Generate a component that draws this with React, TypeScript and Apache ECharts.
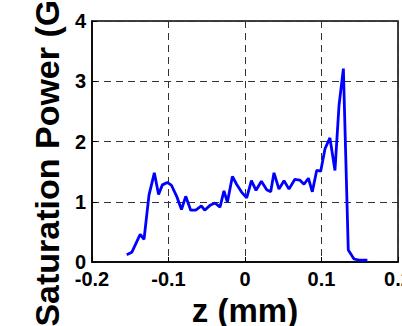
import React, { useEffect, useRef } from "react";
import * as echarts from "echarts";

const zValues = [
  -0.1546, -0.148, -0.1425, -0.137, -0.132, -0.1255, -0.1185, -0.113, -0.108, -0.1015,
  -0.096, -0.089, -0.083, -0.0775, -0.071, -0.0644, -0.057, -0.0527, -0.0457, -0.0392,
  -0.0327, -0.0275, -0.023, -0.0165, -0.011, -0.0045, 0.0022, 0.0084, 0.0144, 0.0214,
  0.0284, 0.0336, 0.0379, 0.0444, 0.051, 0.0575, 0.065, 0.0715, 0.0771, 0.0829,
  0.088, 0.0937, 0.099, 0.1046, 0.111, 0.1176, 0.1229, 0.1286, 0.135, 0.1425,
  0.149, 0.155, 0.16,
];
const powerValues = [
  0.12, 0.16, 0.31, 0.46, 0.375, 1.11, 1.48, 1.12, 1.28, 1.32,
  1.27, 1.08, 0.87, 1.09, 0.86, 0.86, 0.93, 0.86, 0.94, 0.98,
  0.91, 1.18, 0.99, 1.42, 1.29, 1.16, 1.065, 1.35, 1.19, 1.34,
  1.2, 1.165, 1.48, 1.21, 1.35, 1.21, 1.37, 1.36, 1.29, 1.39,
  1.165, 1.52, 1.51, 1.88, 2.06, 1.52, 2.6, 3.21, 0.2, 0.05,
  0.03, 0.03, 0.03,
];
const xTicks = { min: -0.2, max: 0.2, interval: 0.1 };
const yTicks = { min: 0, max: 4, interval: 1 };
const xName = "z (mm)";
const yName = "Saturation Power (GW)";

export default function App() {
  const ref = useRef<HTMLDivElement>(null);
  useEffect(() => {
    if (!ref.current) return;
    const chart = echarts.init(ref.current, null, { renderer: "svg" });
    const font = "Arial, 'Liberation Sans', Helvetica, sans-serif";
    const splitLine = {
      show: true,
      lineStyle: { color: "#333", width: 1, type: [7, 5] as any },
    };
    chart.setOption({
      animation: false,
      backgroundColor: "#fff",
      grid: {
        left: 92,
        right: 4,
        top: 21,
        bottom: 64,
        containLabel: false,
        outerBoundsMode: "none",
        show: true,
        borderColor: "#000",
        borderWidth: 1.5,
        backgroundColor: "transparent",
      },
      xAxis: {
        type: "value",
        min: xTicks.min,
        max: xTicks.max,
        interval: xTicks.interval,
        name: xName,
        nameLocation: "middle",
        nameGap: 30,
        nameTextStyle: { fontFamily: font, fontWeight: "bold", fontSize: 33, color: "#000" },
        axisLine: { show: true, onZero: false, lineStyle: { color: "#000", width: 1.5 } },
        axisTick: { show: true, inside: true, length: 5, lineStyle: { color: "#000" } },
        axisLabel: {
          fontFamily: font,
          fontWeight: "bold",
          fontSize: 20,
          color: "#000",
          margin: 7,
          hideOverlap: false,
          formatter: (v: number) => String(Math.round(v * 10) / 10),
        },
        splitLine,
      },
      yAxis: {
        type: "value",
        min: yTicks.min,
        max: yTicks.max,
        interval: yTicks.interval,
        name: yName,
        nameLocation: "middle",
        nameRotate: 90,
        nameGap: 28,
        nameTextStyle: { fontFamily: font, fontWeight: "bold", fontSize: 34, color: "#000" },
        axisLine: { show: true, onZero: false, lineStyle: { color: "#000", width: 1.5 } },
        axisTick: { show: true, inside: true, length: 5, lineStyle: { color: "#000" } },
        axisLabel: {
          fontFamily: font,
          fontWeight: "bold",
          fontSize: 20,
          color: "#000",
          margin: 6,
          hideOverlap: false,
        },
        splitLine,
      },
      series: [
        {
          type: "line",
          data: zValues.map((z, i) => [z, powerValues[i]]),
          showSymbol: false,
          symbol: "none",
          lineStyle: { color: "#0000ff", width: 2.8 },
          itemStyle: { color: "#0000ff" },
        },
      ],
    });
    return () => chart.dispose();
  }, []);
  return <div ref={ref} style={{ width: 402, height: 326, position: "absolute", left: 0, top: 0 }} />;
}
